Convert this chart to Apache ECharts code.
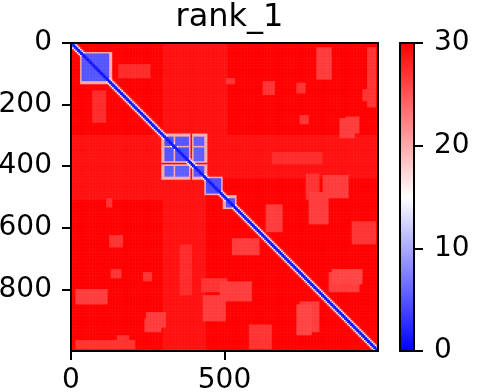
<!DOCTYPE html>
<html><head><meta charset="utf-8">
<script src="https://cdn.jsdelivr.net/npm/echarts@6/dist/echarts.min.js"></script>
<style>html,body{margin:0;padding:0;background:#fff}#c{width:484px;height:392px}</style>
</head><body><div id="c"></div>
<script>
// ---- data ----
const chartTitle = 'rank_1';
const matrixSize = 1000;          // residues on each axis
const cellSize = 5;               // resolution of the drawn grid (residues per cell)
const farValue = 30;              // saturated far-field distance
const diagonalProfile = [0.5, 2, 15, 26];   // value at 0,1,2,3 cells from the diagonal
const xTicks = [0, 500];
const yTicks = [0, 200, 400, 600, 800];
const colorbarTicks = [0, 10, 20, 30];
const colorStops = ['#0000ff', '#ffffff', '#ff0000'];
const blockEdge = [6, 20];        // halo width (residues) and value around blue blocks
// [rowStart, rowEnd, colStart, colEnd, value]  (matrix is symmetric)
const blocks = [
  [37, 127, 37, 127, 5],
  [303, 336, 303, 336, 4.5],
  [341, 386, 341, 386, 4.5],
  [303, 336, 341, 386, 5],
  [399, 437, 303, 336, 5.5],
  [399, 437, 341, 386, 5.5],
  [399, 437, 399, 437, 5],
  [440, 488, 440, 488, 4.5],
  [503, 535, 503, 535, 5]
];
const palePatches = [
  [13, 120, 800, 852, 26.5],
  [240, 293, 897, 940, 26.5],
  [130, 163, 735, 767, 27],
  [423, 510, 767, 810, 27],
  [13, 208, 963, 995, 27],
  [504, 537, 117, 137, 27],
  [624, 667, 127, 170, 27],
  [745, 777, 234, 267, 27],
  [874, 927, 247, 312, 26.5],
  [820, 907, 430, 507, 26.5],
  [950, 992, 150, 192, 27],
  [657, 820, 355, 397, 27.5],
  [634, 690, 527, 614, 26.5],
  [777, 842, 485, 592, 26.5],
  [852, 950, 735, 787, 26],
  [517, 582, 787, 832, 27],
  [582, 657, 917, 995, 27],
  [745, 810, 842, 940, 26.5],
  [153, 260, 72, 117, 27.5],
  [300, 440, 440, 1000, 29],
  [300, 510, 0, 300, 29]
];

// ---- build the cell table ----
const nCells = matrixSize / cellSize;
const cats = [];
for (let k = 0; k < nCells; k++) cats.push(k * cellSize);
function inRect(r, c, p, pad) {
  return r >= p[0] - pad && r <= p[1] + pad && c >= p[2] - pad && c <= p[3] + pad;
}
function cellValue(i, j) {
  const r = (i + 0.5) * cellSize, c = (j + 0.5) * cellSize;
  let v = farValue;
  for (const p of palePatches) {
    if (inRect(r, c, p, 0) || inRect(c, r, p, 0)) v = Math.min(v, p[4]);
  }
  for (const b of blocks) {
    if (inRect(r, c, b, 0) || inRect(c, r, b, 0)) v = Math.min(v, b[4]);
    else if (inRect(r, c, b, blockEdge[0]) || inRect(c, r, b, blockEdge[0])) v = Math.min(v, blockEdge[1]);
  }
  const d = Math.abs(i - j);
  if (d < diagonalProfile.length) v = Math.min(v, diagonalProfile[d]);
  return v;
}
const cells = [];
for (let i = 0; i < nCells; i++) for (let j = 0; j < nCells; j++) cells.push([j, i, cellValue(i, j)]);

// ---- layout ----
const P = { left: 71, top: 43, width: 307, height: 308, outerBoundsMode: 'none', containLabel: false };
const CB = { left: 400, top: 43, width: 14, height: 308, outerBoundsMode: 'none', containLabel: false };
const font = 'DejaVu Sans';
const black = '#000';
const lineOnly = { show: true, onZero: false, lineStyle: { color: black, width: 2 } };
const tickStyle = { show: true, length: 9, lineStyle: { color: black, width: 2 } };
const labelStyle = { show: true, fontFamily: font, fontSize: 28, color: black };

const chart = echarts.init(document.getElementById('c'), null, { renderer: 'canvas' });
chart.setOption({
  animation: false,
  backgroundColor: '#fff',
  title: {
    text: chartTitle, left: P.left + P.width / 2, textAlign: 'center', top: -3,
    textStyle: { fontFamily: font, fontSize: 32, fontWeight: 'normal', color: black }
  },
  grid: [
    { ...P }, { ...P }, { ...CB }
  ],
  visualMap: {
    show: false, type: 'continuous', min: 0, max: 30, seriesIndex: 0,
    inRange: { color: colorStops }
  },
  xAxis: [
    { gridIndex: 0, type: 'category', data: cats, show: false },
    { gridIndex: 1, type: 'value', min: 0, max: matrixSize, position: 'bottom', z: 10,
      axisLine: lineOnly, splitLine: { show: false },
      axisTick: { ...tickStyle, customValues: xTicks },
      axisLabel: { ...labelStyle, margin: 16, customValues: xTicks } },
    { gridIndex: 1, type: 'value', min: 0, max: matrixSize, position: 'top', z: 10,
      axisLine: lineOnly, splitLine: { show: false }, axisTick: { show: false }, axisLabel: { show: false } },
    { gridIndex: 2, type: 'category', data: ['cb'], position: 'bottom', z: 10,
      axisLine: lineOnly, axisTick: { show: false }, axisLabel: { show: false } },
    { gridIndex: 2, type: 'category', data: ['cb'], position: 'top', z: 10,
      axisLine: lineOnly, axisTick: { show: false }, axisLabel: { show: false } }
  ],
  yAxis: [
    { gridIndex: 0, type: 'category', data: cats, inverse: true, show: false },
    { gridIndex: 1, type: 'value', min: 0, max: matrixSize, inverse: true, position: 'left', z: 10,
      axisLine: lineOnly, splitLine: { show: false },
      axisTick: { ...tickStyle, customValues: yTicks },
      axisLabel: { ...labelStyle, margin: 19, customValues: yTicks } },
    { gridIndex: 1, type: 'value', min: 0, max: matrixSize, inverse: true, position: 'right', z: 10,
      axisLine: lineOnly, splitLine: { show: false }, axisTick: { show: false }, axisLabel: { show: false } },
    { gridIndex: 2, type: 'value', min: 0, max: 30, position: 'right', z: 10,
      axisLine: lineOnly, splitLine: { show: false },
      axisTick: { ...tickStyle, customValues: colorbarTicks },
      axisLabel: { ...labelStyle, margin: 20, customValues: colorbarTicks } },
    { gridIndex: 2, type: 'value', min: 0, max: 30, position: 'left', z: 10,
      axisLine: lineOnly, splitLine: { show: false }, axisTick: { show: false }, axisLabel: { show: false } }
  ],
  series: [
    { type: 'heatmap', xAxisIndex: 0, yAxisIndex: 0, data: cells, progressive: 0,
      itemStyle: { borderWidth: 0 }, emphasis: { disabled: true } },
    { type: 'bar', xAxisIndex: 3, yAxisIndex: 3, data: [30], barWidth: '100%', silent: true,
      itemStyle: { color: new echarts.graphic.LinearGradient(0, 1, 0, 0, [
        { offset: 0, color: colorStops[0] }, { offset: 0.5, color: colorStops[1] }, { offset: 1, color: colorStops[2] }
      ]) } }
  ]
});
</script></body></html>
